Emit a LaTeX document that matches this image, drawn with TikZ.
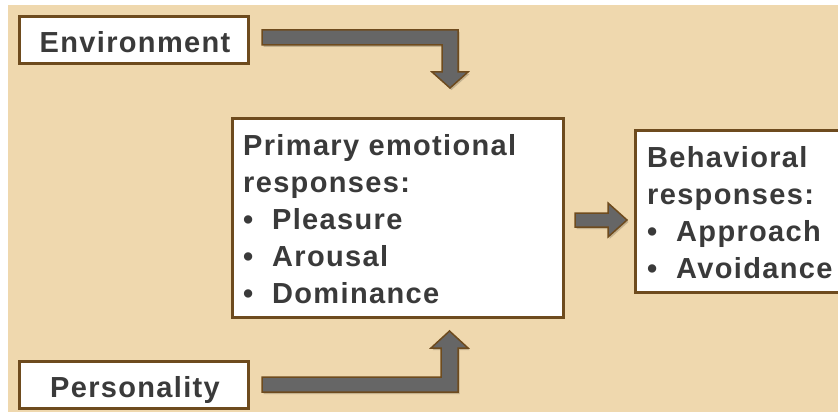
\documentclass[tikz,border=0pt]{standalone}
\usepackage{fontspec}
\setmainfont{Liberation Sans}[LetterSpace=4.6]
\definecolor{tan}{HTML}{EFD8AE}
\definecolor{brownline}{HTML}{6E4B1E}
\definecolor{arrowgray}{HTML}{666666}
\definecolor{textgray}{HTML}{3A3A3A}
\tikzset{
  box/.style={draw=brownline, line width=3pt, fill=white, inner sep=0pt},
  txt/.style={anchor=base west, inner sep=0pt, text=textgray, font=\fontsize{29}{37}\selectfont\bfseries},
  ctxt/.style={anchor=base, inner sep=0pt, text=textgray, font=\fontsize{29}{37}\selectfont\bfseries},
  blockarrow/.style={fill=arrowgray, draw=brownline, line width=1.5pt, line join=miter},
  shadowarrow/.style={fill=black, opacity=0.18, draw=none}
}
\newcommand{\bul}{\makebox[29pt][l]{•}}
\begin{document}
\begin{tikzpicture}[x=1pt,y=-1pt]
\useasboundingbox (0,0) rectangle (838,412);
\clip (0,0) rectangle (838,412);
\fill[white] (0,0) rectangle (838,412);
\fill[tan] (8,5) rectangle (838,412);
% boxes
\node[box, minimum width=229pt, minimum height=47pt] (env) at (133.5,40.5) {};
\node[box, minimum width=229pt, minimum height=47pt] (pers) at (133.5,384.5) {};
\node[box, minimum width=331pt, minimum height=199pt] (prim) at (397.5,217.5) {};
\node[box, minimum width=212pt, minimum height=162pt] (beh) at (741,211) {};
% texts
\node[ctxt] (envt) at (135,53) {Environment};
\node[ctxt] (perst) at (135,397) {Personality};
\node[txt] (p1) at (243,155) {Primary emotional};
\node[txt] (p2) at (243,192) {responses:};
\node[txt] (p3) at (243,229) {\bul Pleasure};
\node[txt] (p4) at (243,266) {\bul Arousal};
\node[txt] (p5) at (243,303) {\bul Dominance};
\node[txt] (b1) at (647,167) {Behavioral};
\node[txt] (b2) at (647,204) {responses:};
\node[txt] (b3) at (647,241) {\bul Approach};
\node[txt] (b4) at (647,278) {\bul Avoidance};
% arrows: shadows
\begin{scope}[shift={(1.5,2)}]
\fill[shadowarrow] (262,30) -- (458,30) -- (458,72) -- (468,72) -- (450,88) -- (432,72) -- (442,72) -- (442,45) -- (262,45) -- cycle;
\fill[shadowarrow] (262,392) -- (458,392) -- (458,348) -- (468,348) -- (449.5,331) -- (431,348) -- (441,348) -- (441,377) -- (262,377) -- cycle;
\fill[shadowarrow] (575,213) -- (608,213) -- (608,203) -- (627,220) -- (608,237) -- (608,227) -- (575,227) -- cycle;
\end{scope}
% arrows
\draw[blockarrow] (262,30) -- (458,30) -- (458,72) -- (468,72) -- (450,88) -- (432,72) -- (442,72) -- (442,45) -- (262,45) -- cycle;
\draw[blockarrow] (262,392) -- (458,392) -- (458,348) -- (468,348) -- (449.5,331) -- (431,348) -- (441,348) -- (441,377) -- (262,377) -- cycle;
\draw[blockarrow] (575,213) -- (608,213) -- (608,203) -- (627,220) -- (608,237) -- (608,227) -- (575,227) -- cycle;
\end{tikzpicture}
\end{document}
